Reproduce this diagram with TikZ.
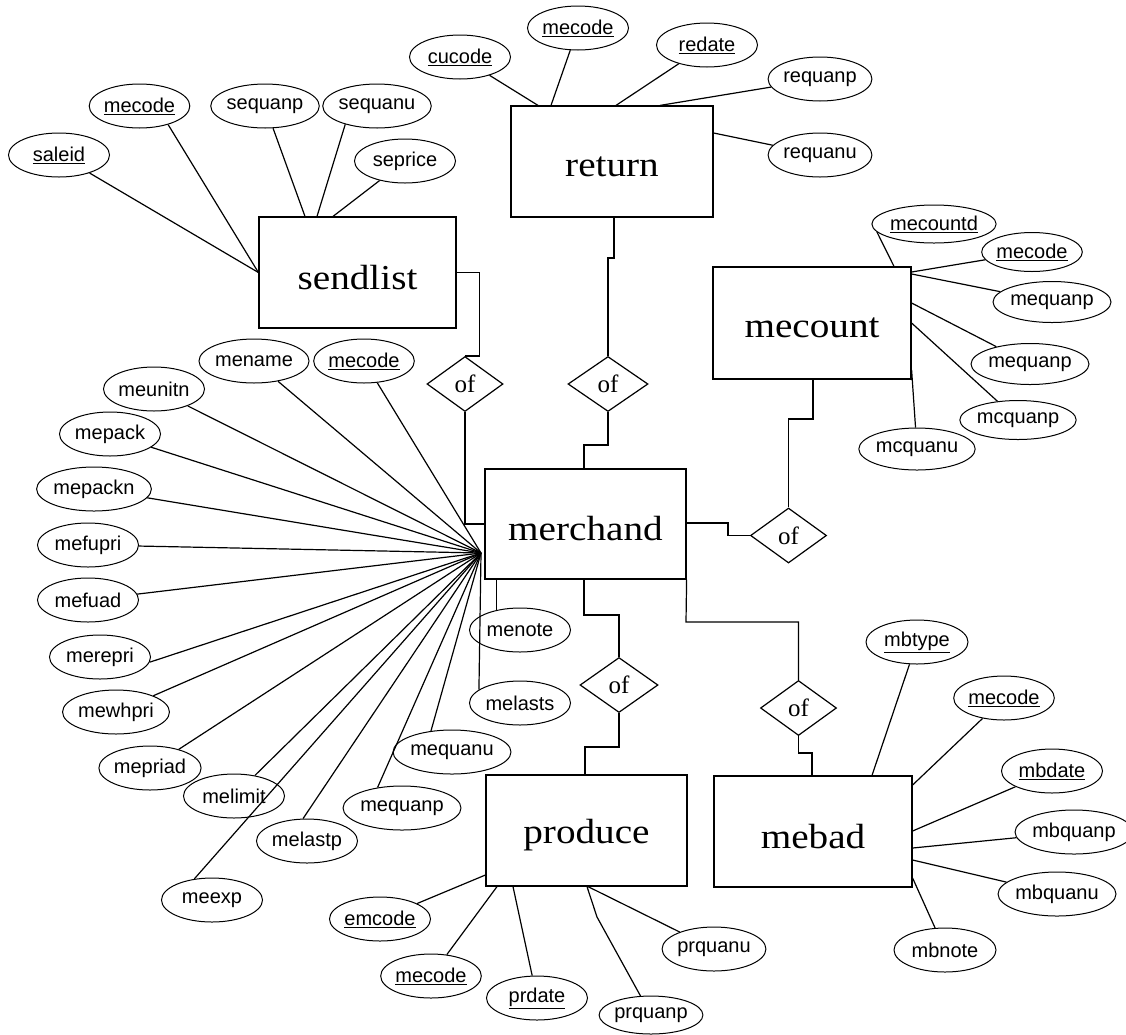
\documentclass[tikz,border=0pt]{standalone}
\usepackage{fontspec}
\setmainfont{Liberation Serif}
\newfontfamily\attrfont{Liberation Sans}
\newfontfamily\entfont[FakeStretch=1.12]{Liberation Serif}
\usetikzlibrary{shapes.geometric}
% entity names sit a little below the box centre
\newcommand\entname[1]{\raisebox{-5pt}[\height][\depth]{#1}}
\begin{document}
\begin{tikzpicture}[x=1pt,y=-1pt,line width=1.2pt,
  entity/.style={draw,rectangle,inner sep=0pt,font=\entfont\fontsize{35}{40}\selectfont},
  attr/.style={draw,ellipse,inner sep=0pt,minimum width=101pt,minimum height=44pt,line width=1pt,
    font=\attrfont\fontsize{20}{22}\selectfont},
  rel/.style={draw,diamond,inner sep=0pt,minimum width=76pt,minimum height=55pt,
    font=\fontsize{25}{28}\selectfont},
  key/.style={attr,minimum width=96pt}]
\fill[white] (0,0) rectangle (1126,1034);
\useasboundingbox (0,0) rectangle (1126,1034);

% ---------- entities ----------
\node[entity,minimum width=197pt,minimum height=111pt] (sendlist) at (357.5,272.5) {\entname{sendlist}};
\node[entity,minimum width=202pt,minimum height=111pt] (return)   at (612,161.5)   {\entname{return}};
\node[entity,minimum width=198pt,minimum height=112pt] (mecount)  at (812,323)     {\entname{mecount}};
\node[entity,minimum width=201pt,minimum height=110pt] (merchand) at (585.5,524)   {\entname{merchand}};
\node[entity,minimum width=201pt,minimum height=111pt] (produce)  at (586.5,830.5) {\entname{produce}};
\node[entity,minimum width=198pt,minimum height=111pt] (mebad)    at (813,831.5)   {\entname{mebad}};

% ---------- relationships ----------
\node[rel] (d1) at (465,384)     {of};
\node[rel,minimum width=80pt] (d2) at (608,384) {of};
\node[rel] (d3) at (788.5,535.5) {of};
\node[rel,minimum width=78pt] (d4) at (619,685) {of};
\node[rel] (d5) at (798.5,708)   {of};

\draw (sendlist.east) -- ++(23,0) |- (d1.north);
\draw (d1.south) |- (merchand.west);
\draw (return.south -| 614,0) -- (614,258) -- (608,258) -- (d2.north);
\draw (d2.south) -- (608,445) -| (merchand.north -| 584,0);
\draw (mecount.south -| 813,0) -- (813,419) -| (d3.north);
\draw (merchand.east |- 0,523) -- (728,523) |- (d3.west);
\draw (merchand.south -| 584,0) |- (d4.north |- 0,615) -- (d4.north);
\draw (d4.south) -- (619,747) -| (produce.north -| 585,0);
\draw (merchand.south east) -- (686,622) -| (d5.north);
\draw (d5.south) -- (798.5,753) -| (mebad.north -| 812,0);

% ---------- sendlist attributes ----------
\node[attr] (saleid) at (59,155) {\underline{saleid}};
\node[key,minimum width=95pt] (slcode) at (139.5,106) {\underline{mecode}};
\node[attr] (sequanp) at (265,106) {sequanp};
\node[attr] (sequanu) at (377,106) {sequanu};
\node[attr] (seprice) at (405,161) {seprice};
\draw (saleid) -- (sendlist.west);
\draw (slcode.-33) -- (sendlist.west);
\draw (sequanp) -- (sendlist.north -| 305,0);
\draw (sequanu.-150) -- (sendlist.north -| 317,0);
\draw (seprice) -- (sendlist.north -| 333,0);

% ---------- return attributes ----------
\node[attr] (cucode) at (460,57) {\underline{cucode}};
\node[attr] (rtcode) at (578,28) {\underline{mecode}};
\node[attr] (redate) at (707,45) {\underline{redate}};
\node[attr,minimum width=103pt] (requanp) at (820,79) {requanp};
\node[attr,minimum width=103pt] (requanu) at (820,155) {requanu};
\draw (cucode) -- (return.north -| 538,0);
\draw (rtcode) -- (return.north -| 551,0);
\draw (redate) -- (return.north -| 616,0);
\draw (requanp) -- (return.north -| 660,0);
\draw (requanu) -- (return.east |- 0,133);

% ---------- mecount attributes ----------
\node[attr,minimum width=103pt,minimum height=38pt] (mecountd) at (934,224) {\underline{mecountd}};
\node[attr,minimum width=95pt,minimum height=39pt] (mccode) at (1032,252) {\underline{mecode}};
\node[attr,minimum height=41pt] (mequanpA) at (1052,302) {mequanp};
\node[attr,minimum height=41pt] (mequanpB) at (1030,364) {mequanp};
\node[attr,minimum height=39pt] (mcquanp) at (1018,420) {mcquanp};
\node[attr,minimum width=102pt,minimum height=42pt] (mcquanu) at (917,449) {mcquanu};
\draw (mecountd.-172) -- (mecount.north -| 894,0);
\draw (mccode) -- (mecount.east |- 0,272);
\draw (mequanpA) -- (mecount.east |- 0,274);
\draw (mequanpB) -- (mecount.east |- 0,303);
\draw (mcquanp) -- (mecount.east |- 0,323);
\draw (mcquanu) -- (mecount.east |- 0,370);

% ---------- merchand attributes ----------
\coordinate (fan) at (481,553);
\node[attr] (mename) at (254,361) {mename};
\node[key] (mecode) at (364,361) {\underline{mecode}};
\node[attr] (meunitn) at (154,389) {meunitn};
\node[attr] (mepack) at (110,434) {mepack};
\node[attr] (mepackn) at (94,489) {mepackn};
\node[attr] (mefupri) at (88,545) {mefupri};
\node[attr] (mefuad) at (88,600) {mefuad};
\node[attr] (merepri) at (100,657) {merepri};
\node[attr] (mewhpri) at (116,712) {mewhpri};
\node[attr] (mepriad) at (150,768) {mepriad};
\node[attr] (melimit) at (234,796) {melimit};
\node[attr] (melastp) at (307,841) {melastp};
\node[attr] (meexp) at (212,900) {meexp};
\node[attr] (mequanp) at (402,808) {mequanp};
\node[attr] (mequanu) at (452,752) {mequanu};
\node[attr] (menote) at (520,630) {menote};
\node[attr] (melasts) at (520,703) {melasts};
\foreach \a in {mename,mecode,meunitn,mepack,mepackn,mefupri,mefuad,mewhpri,mepriad,melimit}
  \draw (\a) -- (fan);
\draw (merepri.-6) -- (fan);
\draw (meexp.130) -- (fan);
\draw (melastp.100) -- (fan);
\draw (mequanp.140) -- (fan);
\draw (mequanu.135) -- (fan);
\draw (melasts.162) -- (fan);
\draw (menote.140 |- merchand.south) -- (menote.140);

% ---------- produce attributes ----------
\node[attr] (emcode) at (380,919) {\underline{emcode}};
\node[key,minimum width=95pt] (prcode) at (431,976) {\underline{mecode}};
\node[attr] (prdate) at (537,998) {\underline{prdate}};
\node[attr,minimum width=103pt,minimum height=38pt] (prquanp) at (651,1015) {prquanp};
\node[attr,minimum width=102pt] (prquanu) at (714,949) {prquanu};
\draw (emcode) -- (produce.west |- 0,875);
\draw (prcode) -- (produce.south -| 497,0);
\draw (prdate) -- (produce.south -| 513,0);
\draw (prquanp) -- (597,917) -- (produce.south -| 587,0);
\draw (prquanu) -- (produce.south -| 588,0);

% ---------- mebad attributes ----------
\node[attr,minimum width=102pt] (mbtype) at (917,642) {\underline{mbtype}};
\node[key] (mbcode) at (1004,698) {\underline{mecode}};
\node[attr] (mbdate) at (1052,771) {\underline{mbdate}};
\node[attr] (mbquanp) at (1074,832) {mbquanp};
\node[attr] (mbquanu) at (1057,894) {mbquanu};
\node[attr,minimum width=102pt] (mbnote) at (945,950) {mbnote};
\draw (mbtype) -- (mebad.north -| 872,0);
\draw (mbcode) -- (mebad.east |- 0,785);
\draw (mbdate) -- (mebad.east |- 0,831);
\draw (mbquanp) -- (mebad.east |- 0,848);
\draw (mbquanu) -- (mebad.east |- 0,860);
\draw (mbnote) -- (mebad.east |- 0,878);
\end{tikzpicture}
\end{document}
